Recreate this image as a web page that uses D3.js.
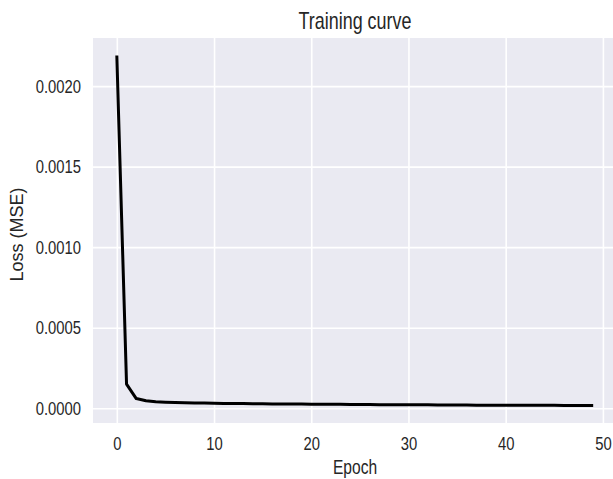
<!DOCTYPE html>
<html>
<head>
    <title>Training curve</title>
    <script src="https://d3js.org/d3.v7.min.js"></script>
    <style>
        body { margin: 0; background: #fff; }
        svg text { fill: #262626; font-family: "Liberation Sans", Arial, sans-serif; }
    </style>
</head>
<body>
    <div id="chart"></div>

    <script>
        // loss per epoch
        var epochs = d3.range(0, 50);
        var loss = [
            0.00219, 0.000150, 0.000060, 0.000046, 0.000040, 0.000037, 0.000035, 0.000034, 0.000033, 0.000032,
            0.000031, 0.000030, 0.000029, 0.000029, 0.000028, 0.000028, 0.000027, 0.000027, 0.000026, 0.000026,
            0.000025, 0.000025, 0.000024, 0.000024, 0.000023, 0.000023, 0.000023, 0.000022, 0.000022, 0.000022,
            0.000021, 0.000021, 0.000021, 0.000020, 0.000020, 0.000020, 0.000020, 0.000019, 0.000019, 0.000019,
            0.000019, 0.000018, 0.000018, 0.000018, 0.000018, 0.000018, 0.000017, 0.000017, 0.000017, 0.000017
        ];
        var xTicks = [0, 10, 20, 30, 40, 50];
        var yTicks = [0, 0.0005, 0.0010, 0.0015, 0.0020];

        var width = 613, height = 479;
        var mLeft = 93, mTop = 38, mRight = 617, mBottom = 423;
        var squeeze = 0.78; // the reference text is horizontally squashed

        var svg = d3.select("#chart").append("svg")
            .attr("width", width)
            .attr("height", height);

        // matplotlib style 5% margins
        var xSpan = 49 * 0.05;
        var x = d3.scaleLinear().domain([-xSpan, 49 + xSpan]).range([mLeft, mRight]);
        var yMin = d3.min(loss), yMax = d3.max(loss);
        var yPad = (yMax - yMin) * 0.05;
        var y = d3.scaleLinear().domain([yMin - yPad, yMax + yPad]).range([mBottom, mTop]);

        svg.append("rect")
            .attr("x", mLeft).attr("y", mTop)
            .attr("width", mRight - mLeft).attr("height", mBottom - mTop)
            .attr("fill", "#eaeaf2");

        // grid
        svg.append("g")
            .attr("transform", "translate(0," + mBottom + ")")
            .call(d3.axisBottom(x).tickValues(xTicks).tickSize(-(mBottom - mTop)).tickFormat(""))
            .call(function(g) {
                g.select(".domain").remove();
                g.selectAll("line").attr("stroke", "#fff").attr("stroke-width", 1.6);
            });

        svg.append("g")
            .attr("transform", "translate(" + mLeft + ",0)")
            .call(d3.axisLeft(y).tickValues(yTicks).tickSize(-(mRight - mLeft)).tickFormat(""))
            .call(function(g) {
                g.select(".domain").remove();
                g.selectAll("line").attr("stroke", "#fff").attr("stroke-width", 1.6);
            });

        // tick labels
        svg.append("g")
            .attr("transform", "translate(0," + mBottom + ")")
            .call(d3.axisBottom(x).tickValues(xTicks).tickSize(0).tickPadding(14).tickFormat(d3.format("d")))
            .call(function(g) {
                g.select(".domain").remove();
                g.selectAll("text")
                    .attr("font-size", 19)
                    .attr("font-family", null)
                    .attr("transform", "scale(" + squeeze + ",1)");
            });

        svg.append("g")
            .attr("transform", "translate(" + (mLeft - 12) + ",0)")
            .call(d3.axisLeft(y).tickValues(yTicks).tickSize(0).tickPadding(0).tickFormat(d3.format(".4f")))
            .call(function(g) {
                g.select(".domain").remove();
                g.selectAll("text")
                    .attr("font-size", 19)
                    .attr("font-family", null)
                    .attr("transform", "scale(" + squeeze + ",1)");
            });

        var line = d3.line()
            .x(function(d, i) { return x(epochs[i]); })
            .y(function(d) { return y(d); });

        svg.append("path")
            .datum(loss)
            .attr("d", line)
            .attr("fill", "none")
            .attr("stroke", "#000")
            .attr("stroke-width", 3)
            .attr("stroke-linejoin", "round");

        svg.append("text")
            .attr("transform", "translate(" + ((mLeft + mRight) / 2) + ",29) scale(" + squeeze + ",1)")
            .attr("text-anchor", "middle")
            .style("font-size", "23px")
            .text("Training curve");

        svg.append("text")
            .attr("transform", "translate(" + ((mLeft + mRight) / 2) + ",474) scale(" + squeeze + ",1)")
            .attr("text-anchor", "middle")
            .style("font-size", "20px")
            .text("Epoch");

        svg.append("text")
            .attr("transform", "translate(23," + ((mTop + mBottom) / 2 + 4) + ") rotate(-90)")
            .attr("text-anchor", "middle")
            .style("font-size", "18px")
            .text("Loss (MSE)");
    </script>
</body>
</html>
